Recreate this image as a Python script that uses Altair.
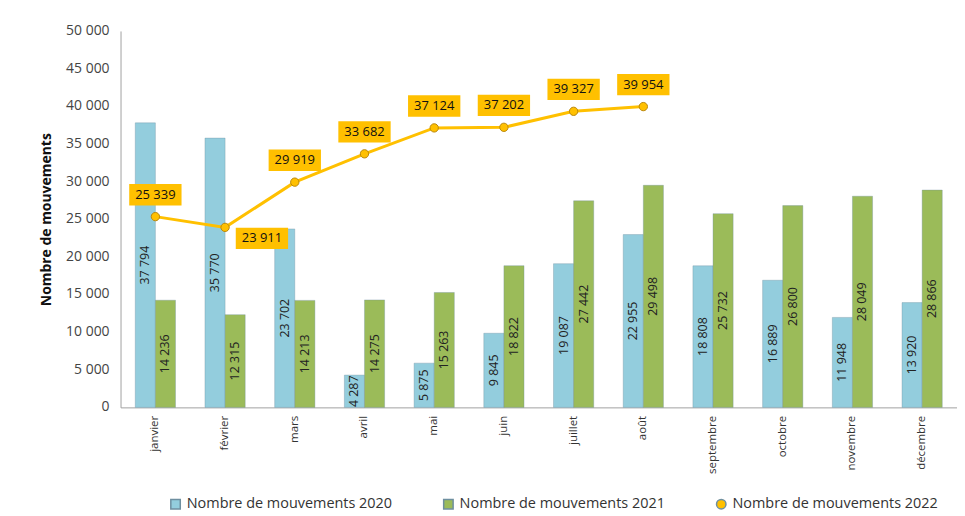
import altair as alt
import pandas as pd

months = ["janvier", "février", "mars", "avril", "mai", "juin", "juillet",
          "août", "septembre", "octobre", "novembre", "décembre"]
v2020 = [37794, 35770, 23702, 4287, 5875, 9845, 19087, 22955, 18808, 16889, 11948, 13920]
v2021 = [14236, 12315, 14213, 14275, 15263, 18822, 27442, 29498, 25732, 26800, 28049, 28866]
months_2022 = months[:8]
v2022 = [25339, 23911, 29919, 33682, 37124, 37202, 39327, 39954]
y_ticks = [0, 5000, 10000, 15000, 20000, 25000, 30000, 35000, 40000, 45000, 50000]

s20 = "Nombre de mouvements 2020"
s21 = "Nombre de mouvements 2021"
s22 = "Nombre de mouvements 2022"
series = [s20, s21, s22]
colors = ["#93CDDD", "#9BBB59", "#FFC000"]

bars = pd.DataFrame(
    [{"mois": m, "serie": s20, "v": v} for m, v in zip(months, v2020)]
    + [{"mois": m, "serie": s21, "v": v} for m, v in zip(months, v2021)]
)
line = pd.DataFrame({"mois": months_2022, "serie": s22, "v": v2022})
ticks_df = pd.DataFrame({"t": y_ticks})

FONT = "Open Sans"
fmt = "replace(format(datum.v, ','), ',', ' ')"

x_axis = alt.Axis(labelAngle=270, labelFontSize=11.5, labelColor="#333",
                  ticks=False, domainColor="#A0A0A0", labelPadding=8,
                  labelFont=FONT)
x_scale = alt.Scale(paddingInner=0.423, paddingOuter=0.2115)
x = alt.X("mois:N", sort=months, title=None, scale=x_scale, axis=x_axis)

y_axis = alt.Axis(values=y_ticks, grid=False, ticks=False, labels=False,
                  domainColor="#A0A0A0",
                  titleFont=FONT, titleFontSize=14, titleFontWeight="bold",
                  titleColor="#111", titlePadding=67)
y_scale = alt.Scale(domain=[0, 50000])
TITLE = "Nombre de mouvements"
y = alt.Y("v:Q", title=TITLE, scale=y_scale, axis=y_axis)
y_mid = alt.Y("mid:Q", title=TITLE, scale=y_scale, axis=y_axis)
y_tick = alt.Y("t:Q", title=TITLE, scale=y_scale, axis=y_axis)

legend = alt.Legend(title=None, orient="none", direction="horizontal",
                    legendX=48, legendY=468,
                    labelFont=FONT, labelFontSize=14.5, labelColor="#333", labelLimit=400,
                    columnPadding=48, symbolSize=90)
color = alt.Color("serie:N", scale=alt.Scale(domain=series, range=colors), legend=legend)
shape = alt.Shape("serie:N", scale=alt.Scale(domain=series, range=["square", "square", "circle"]),
                  legend=legend)

tick_labels = alt.Chart(ticks_df).transform_calculate(
    lab="replace(format(datum.t, ','), ',', ' ')"
).mark_text(align="right", baseline="middle", fontSize=14, color="#444", font=FONT).encode(
    x=alt.value(-11), y=y_tick, text="lab:N"
)

bar_layer = alt.Chart(bars).mark_bar(strokeWidth=0.6, stroke="#6E8FA0", strokeOpacity=0.6).encode(
    x=x,
    xOffset=alt.XOffset("serie:N", sort=[s20, s21], scale=alt.Scale(paddingInner=0)),
    y=y,
    color=color,
)

bar_text = alt.Chart(bars).transform_calculate(
    mid="datum.v / 2", lab=fmt
).mark_text(angle=270, fontSize=12.5, color="#222", font=FONT, baseline="middle", align="center").encode(
    x=x,
    xOffset=alt.XOffset("serie:N", sort=[s20, s21], scale=alt.Scale(paddingInner=0)),
    y=y_mid,
    text="lab:N",
)

line_layer = alt.Chart(line).mark_line(color="#FFC000", strokeWidth=3).encode(x=x, y=y)

point_layer = alt.Chart(line).mark_point(filled=True, size=70, stroke="#B8860B",
                                         strokeWidth=1, opacity=1).encode(
    x=x, y=y, color=color, shape=shape
)

box_path = "M-2.45,-1L2.45,-1L2.45,1L-2.45,1Z"
label_data = alt.Chart(line).transform_calculate(lab=fmt)

boxes_main = label_data.transform_filter("datum.mois != 'février'").mark_point(
    shape=box_path, size=460, filled=True, color="#FFC000", opacity=1, yOffset=-22
).encode(x=x, y=y)
texts_main = label_data.transform_filter("datum.mois != 'février'").mark_text(
    fontSize=13, color="#111", font=FONT, dy=-22
).encode(x=x, y=y, text="lab:N")

boxes_fev = label_data.transform_filter("datum.mois == 'février'").mark_point(
    shape=box_path, size=460, filled=True, color="#FFC000", opacity=1, xOffset=37, yOffset=11
).encode(x=x, y=y)
texts_fev = label_data.transform_filter("datum.mois == 'février'").mark_text(
    fontSize=13, color="#111", font=FONT, dx=37, dy=11
).encode(x=x, y=y, text="lab:N")

chart = alt.layer(
    bar_layer, bar_text, line_layer, point_layer, boxes_main, texts_main, boxes_fev, texts_fev,
    tick_labels
).resolve_scale(
    color="shared", shape="shared"
).properties(
    width=840, height=378,
    padding={"left": 32, "top": 15, "right": 0, "bottom": 0},
).configure(background="white").configure_view(strokeWidth=0)

chart.save("out.html", embed_options={"renderer": "svg", "actions": False})
